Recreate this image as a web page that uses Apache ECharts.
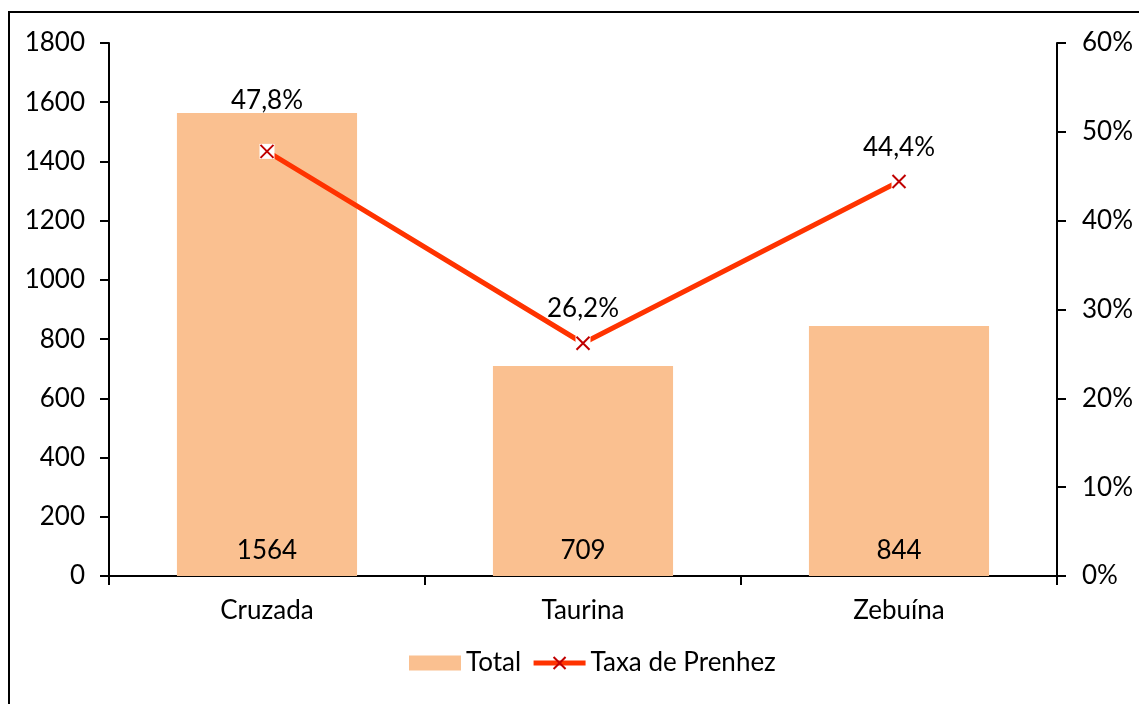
<!DOCTYPE html>
<html><head><meta charset="utf-8">
<script src="https://cdn.jsdelivr.net/npm/echarts@6/dist/echarts.min.js"></script>
<style>html,body{margin:0;padding:0;background:#fff}#c{width:1139px;height:704px}</style>
</head><body><div id="c"></div>
<script>
var categories = ['Cruzada', 'Taurina', 'Zebuína'];
var totals = [1564, 709, 844];
var rates = [47.8, 26.2, 44.4];
var leftTicks = {min: 0, max: 1800, interval: 200};
var rightTicks = {min: 0, max: 60, interval: 10};

var FONT = 'Lato';
var FS = 26;
var chart = echarts.init(document.getElementById('c'));
var fmtPct = function (v) { return v.toFixed(1).replace('.', ',') + '%'; };
var labelDist = [30, 14, 13];

chart.setOption({
  backgroundColor: '#fff',
  textStyle: {fontFamily: FONT, color: '#000'},
  graphic: [{type: 'rect', shape: {x: 9, y: 12, width: 1300, height: 900}, style: {fill: 'none', stroke: '#000', lineWidth: 2}, silent: true}],
  grid: {left: 109, right: 82, top: 43, bottom: 128},
  legend: {
    bottom: 23, left: 404, itemGap: 10, itemWidth: 52, itemHeight: 15,
    textStyle: {fontFamily: FONT, fontSize: FS, color: '#000'},
    data: [{name: 'Total', icon: 'rect'}, {name: 'Taxa de Prenhez', lineStyle: {width: 5, color: '#FF3300'}}]
  },
  xAxis: {
    type: 'category', data: categories, boundaryGap: true,
    axisLine: {lineStyle: {color: '#000', width: 2}},
    axisTick: {show: true, length: 9, interval: 0, lineStyle: {color: '#000', width: 2}},
    axisLabel: {fontFamily: FONT, fontSize: FS, color: '#000', margin: 22}
  },
  yAxis: [{
    type: 'value', min: leftTicks.min, max: leftTicks.max, interval: leftTicks.interval,
    axisLine: {show: true, lineStyle: {color: '#000', width: 2}},
    axisTick: {show: true, length: 9, lineStyle: {color: '#000', width: 2}},
    splitLine: {show: false},
    axisLabel: {fontFamily: FONT, fontSize: FS, color: '#000', margin: 24, formatter: function (v) { return String(v); }}
  }, {
    type: 'value', position: 'right', min: rightTicks.min, max: rightTicks.max, interval: rightTicks.interval,
    axisLine: {show: true, lineStyle: {color: '#000', width: 2}},
    axisTick: {show: true, length: 9, lineStyle: {color: '#000', width: 2}},
    splitLine: {show: false},
    axisLabel: {fontFamily: FONT, fontSize: FS, color: '#000', margin: 25, formatter: '{value}%'}
  }],
  series: [{
    name: 'Total', type: 'bar', data: totals, barWidth: '57%',
    itemStyle: {color: '#FAC090'},
    label: {show: true, position: 'insideBottom', distance: 12, fontFamily: FONT, fontSize: FS, color: '#000'},
    z: 1
  }, {
    name: 'Taxa de Prenhez', type: 'line', yAxisIndex: 1, data: rates,
    lineStyle: {color: '#FF3300', width: 5},
    symbol: 'path://M0,0L10,10M10,0L0,10', symbolSize: 13,
    itemStyle: {color: 'transparent', borderColor: '#C00000', borderWidth: 2},
    z: 2
  }, {
    name: 'bg', type: 'line', yAxisIndex: 1, data: rates,
    lineStyle: {width: 0, opacity: 0}, symbol: 'rect', symbolSize: 15,
    itemStyle: {color: '#fff', borderWidth: 0}, z: 3, silent: true
  }, {
    name: 'marks', type: 'line', yAxisIndex: 1,
    data: rates.map(function (v, i) { return {value: v, label: {distance: labelDist[i]}}; }),
    lineStyle: {width: 0, opacity: 0},
    symbol: 'path://M0,0L10,10M10,0L0,10', symbolSize: 13,
    itemStyle: {color: 'transparent', borderColor: '#C00000', borderWidth: 2},
    label: {show: true, position: 'top', fontFamily: FONT, fontSize: FS, color: '#000',
      formatter: function (p) { return fmtPct(p.value); }},
    z: 4, silent: true
  }]
});
</script></body></html>
